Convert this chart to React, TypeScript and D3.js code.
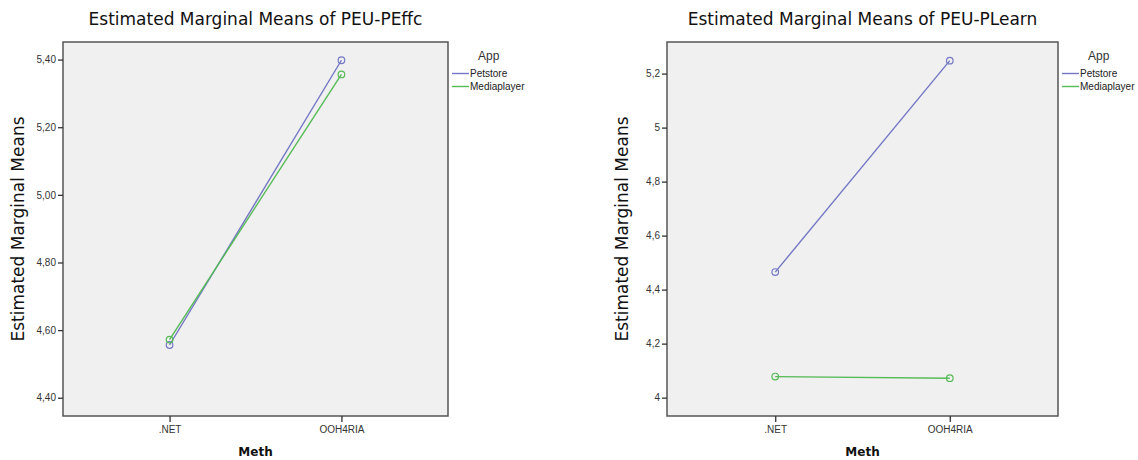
import React, { useEffect, useRef } from 'react';
import * as d3 from 'd3';

// categories on the x axis
const methods = ['.NET', 'OOH4RIA'];
const apps = ['Petstore', 'Mediaplayer'];
const appColors = ['#7478c4', '#55bb55'];

// PEU-PEffc means (Petstore, Mediaplayer) per method
const peffcPetstore = [4.556, 5.398];
const peffcMediaplayer = [4.572, 5.356];
const peffcTicks = [4.4, 4.6, 4.8, 5.0, 5.2, 5.4];

// PEU-PLearn means
const plearnPetstore = [4.465, 5.248];
const plearnMediaplayer = [4.078, 4.072];
const plearnTicks = [4.0, 4.2, 4.4, 4.6, 4.8, 5.0, 5.2];

type PanelProps = {
  title: string;
  series: number[][];
  ticks: number[];
  domain: [number, number];
  fmt: (v: number) => string;
  left: number;
  right: number;
};

const Panel = ({ title, series, ticks, domain, fmt, left, right }: PanelProps) => {
  const gRef = useRef<SVGGElement>(null);

  useEffect(() => {
    const top = 42, bottom = 416;
    const g = d3.select(gRef.current);
    g.selectAll('*').remove();

    const x = d3.scalePoint<string>().domain(methods).range([left, right]).padding(0.62);
    const y = d3.scaleLinear().domain(domain).range([bottom, top]);

    // plot background + frame
    g.append('rect')
      .attr('x', left).attr('y', top)
      .attr('width', right - left).attr('height', bottom - top)
      .attr('fill', '#f0f0f0')
      .attr('stroke', '#555')
      .attr('stroke-width', 1.5);

    // y axis ticks
    const yAxis = g.append('g').attr('transform', `translate(${left},0)`)
      .call(d3.axisLeft(y).tickValues(ticks).tickSize(5).tickFormat(d => fmt(+d)));
    yAxis.select('.domain').remove();
    yAxis.selectAll('line').attr('stroke', '#333').attr('stroke-width', 1.3);
    yAxis.selectAll('text')
      .attr('font-family', 'Liberation Sans, Arial, sans-serif')
      .attr('font-size', 10).attr('fill', '#333').attr('dx', 1);

    // x axis ticks
    const xAxis = g.append('g').attr('transform', `translate(0,${bottom})`)
      .call(d3.axisBottom(x).tickSize(6).tickPadding(4));
    xAxis.select('.domain').remove();
    xAxis.selectAll('line').attr('stroke', '#333').attr('stroke-width', 1.3);
    xAxis.selectAll('text')
      .attr('font-family', 'Liberation Sans, Arial, sans-serif')
      .attr('font-size', 10).attr('fill', '#333');

    const mid = (left + right) / 2;

    g.append('text')
      .attr('x', mid).attr('y', 25)
      .attr('text-anchor', 'middle')
      .attr('font-family', 'DejaVu Sans, sans-serif')
      .attr('font-size', 17).attr('fill', '#111')
      .text(title);

    g.append('text')
      .attr('transform', `translate(${left - 39},${(top + bottom) / 2}) rotate(-90)`)
      .attr('text-anchor', 'middle')
      .attr('font-family', 'DejaVu Sans, sans-serif')
      .attr('font-size', 17).attr('fill', '#111')
      .text('Estimated Marginal Means');

    g.append('text')
      .attr('x', mid).attr('y', 456)
      .attr('text-anchor', 'middle')
      .attr('font-family', 'DejaVu Sans, sans-serif')
      .attr('font-weight', 'bold')
      .attr('font-size', 12).attr('fill', '#111')
      .text('Meth');

    // lines + hollow markers
    const line = d3.line<number>().x((_, i) => x(methods[i]) as number).y(d => y(d));
    series.forEach((vals, si) => {
      g.append('path')
        .attr('d', line(vals))
        .attr('fill', 'none')
        .attr('stroke', appColors[si])
        .attr('stroke-width', 1.4);
      g.selectAll(null)
        .data(vals)
        .enter()
        .append('circle')
        .attr('cx', (_, i) => x(methods[i]) as number)
        .attr('cy', d => y(d))
        .attr('r', 3.3)
        .attr('fill', 'none')
        .attr('stroke', appColors[si])
        .attr('stroke-width', 1.2);
    });

    // legend
    const lx = right + 4;
    g.append('text')
      .attr('x', lx + 26).attr('y', 60)
      .attr('font-family', 'Liberation Sans, Arial, sans-serif')
      .attr('font-size', 12).attr('fill', '#333')
      .text('App');
    apps.forEach((a, i) => {
      const ly = 73.5 + i * 13;
      g.append('line')
        .attr('x1', lx).attr('x2', lx + 17)
        .attr('y1', ly).attr('y2', ly)
        .attr('stroke', appColors[i]).attr('stroke-width', 1.4);
      g.append('text')
        .attr('x', lx + 18).attr('y', ly + 3.5)
        .attr('font-family', 'Liberation Sans, Arial, sans-serif')
        .attr('font-size', 10).attr('fill', '#222')
        .text(a);
    });
  }, [title, series, ticks, domain, fmt, left, right]);

  return <g ref={gRef} />;
};

const commaFmt2 = (v: number) => v.toFixed(2).replace('.', ',');
const commaFmtShort = (v: number) => String(+v.toFixed(1)).replace('.', ',');

const App = () => {
  return (
    <svg
      width={1138}
      height={460}
      style={{ position: 'absolute', left: 0, top: 0, background: '#fff' }}
    >
      <Panel
        title="Estimated Marginal Means of PEU-PEffc"
        series={[peffcPetstore, peffcMediaplayer]}
        ticks={peffcTicks}
        domain={[4.346, 5.452]}
        fmt={commaFmt2}
        left={63}
        right={448}
      />
      <Panel
        title="Estimated Marginal Means of PEU-PLearn"
        series={[plearnPetstore, plearnMediaplayer]}
        ticks={plearnTicks}
        domain={[3.932, 5.317]}
        fmt={commaFmtShort}
        left={667}
        right={1058}
      />
    </svg>
  );
};

export default App;
